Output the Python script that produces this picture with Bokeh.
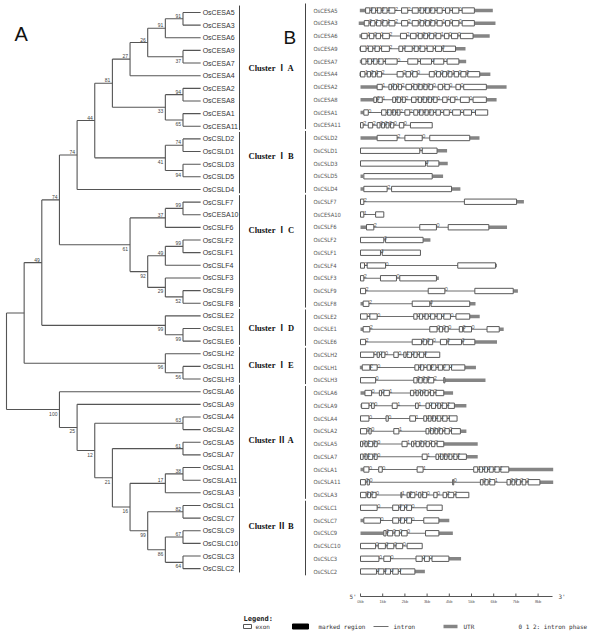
from bokeh.plotting import figure
from bokeh.layouts import row
from bokeh.models import Range1d, ColumnDataSource
from bokeh.core.properties import value
from bokeh.embed import file_html
from bokeh.resources import INLINE

# ---------------- data ----------------
# tree: (node level, bootstrap, children); leaves are gene names
TREE = (0, None, [
    (1, None, [
        (2, 49, [
            (3, 74, [
                (4, 74, [
                    (5, 44, [
                        (6, 81, [
                            (7, 27, [
                                (8, 26, [
                                    (9, 91, [(10, 91, ["OsCESA5", "OsCESA3"]), "OsCESA6"]),
                                    (10, 37, ["OsCESA9", "OsCESA7"]),
                                ]),
                                "OsCESA4",
                            ]),
                            (9, 33, [(10, 94, ["OsCESA2", "OsCESA8"]),
                                     (10, 65, ["OsCESA1", "OsCESA11"])]),
                        ]),
                        (9, 41, [(10, 74, ["OsCSLD2", "OsCSLD1"]),
                                 (10, 94, ["OsCSLD3", "OsCSLD5"])]),
                    ]),
                    "OsCSLD4",
                ]),
                (7, 61, [
                    (9, 37, [(10, 99, ["OsCSLF7", "OsCESA10"]), "OsCSLF6"]),
                    (8, 92, [
                        (9, 49, [(10, 99, ["OsCSLF2", "OsCSLF1"]), "OsCSLF4"]),
                        (9, 29, ["OsCSLF3", (10, 52, ["OsCSLF9", "OsCSLF8"])]),
                    ]),
                ]),
            ]),
            (9, 99, ["OsCSLE2", (10, 99, ["OsCSLE1", "OsCSLE6"])]),
        ]),
        (9, 96, ["OsCSLH2", (10, 56, ["OsCSLH1", "OsCSLH3"])]),
    ]),
    (3, 100, [
        "OsCSLA6",
        (4, 25, [
            "OsCSLA9",
            (5, 12, [
                (10, 63, ["OsCSLA4", "OsCSLA2"]),
                (6, 21, [
                    (10, 61, ["OsCSLA5", "OsCSLA7"]),
                    (7, 16, [
                        (9, 17, [(10, 38, ["OsCSLA1", "OsCSLA11"]), "OsCSLA3"]),
                        (8, 99, [(10, 82, ["OsCSLC1", "OsCSLC7"]),
                                 (9, 86, [(10, 67, ["OsCSLC9", "OsCSLC10"]),
                                          (10, 64, ["OsCSLC3", "OsCSLC2"])])]),
                    ]),
                ]),
            ]),
        ]),
    ]),
])
LEAF_LEVEL = 11

GENES = ["OsCESA5", "OsCESA3", "OsCESA6", "OsCESA9", "OsCESA7", "OsCESA4", "OsCESA2",
         "OsCESA8", "OsCESA1", "OsCESA11", "OsCSLD2", "OsCSLD1", "OsCSLD3", "OsCSLD5",
         "OsCSLD4", "OsCSLF7", "OsCESA10", "OsCSLF6", "OsCSLF2", "OsCSLF1", "OsCSLF4",
         "OsCSLF3", "OsCSLF9", "OsCSLF8", "OsCSLE2", "OsCSLE1", "OsCSLE6", "OsCSLH2",
         "OsCSLH1", "OsCSLH3", "OsCSLA6", "OsCSLA9", "OsCSLA4", "OsCSLA2", "OsCSLA5",
         "OsCSLA7", "OsCSLA1", "OsCSLA11", "OsCSLA3", "OsCSLC1", "OsCSLC7", "OsCSLC9",
         "OsCSLC10", "OsCSLC3", "OsCSLC2"]

# gene structures (kb)
UTR5 = [(-0.03, 0.23), (-0.08, 0.17), (-0.05, 0.05), (-0.05, 0.0), (-0.03, 0.05), (-0.05, 0.0),
        (0.0, 0.75), (0.0, 0.6), (0.0, 0.15), None, (0.0, 0.75), None, None, (0.0, 0.12),
        (0.0, 0.15), None, None, (0.0, 0.27), None, None, None, None, None, (0.0, 0.12),
        None, (0.0, 0.12), None, None, (-0.03, 0.08), None, (0.0, 0.2), (0.0, 0.05), None,
        None, None, None, (0.0, 0.15), None, None, None, (0.0, 0.15), (0.0, 1.05), None,
        None, None]
UTR3 = [(5.13, 5.96), (5.13, 6.08), (5.07, 5.82), (4.28, 4.73), (4.43, 4.76), (5.37, 5.85),
        (5.67, 6.58), (5.67, 6.13), None, None, (4.92, 5.36), (3.45, 3.9), (3.53, 3.93),
        (3.23, 3.72), (4.1, 4.5), (7.03, 7.36), None, (5.78, 6.6), (2.82, 3.15), None,
        (6.08, 6.15), (3.42, 3.53), (6.88, 7.09), (4.92, 5.18), (4.92, 5.37), (6.25, 6.45),
        (5.15, 6.15), None, (4.7, 5.2), (3.8, 5.63), (3.75, 4.17), (4.23, 4.77), None,
        (4.5, 4.77), (3.75, 5.28), (4.77, 5.28), (6.68, 8.68), (8.08, 8.68), None, None,
        (3.53, 4.0), (3.53, 4.16), None, (3.98, 4.53), (2.45, 2.9)]
EXONS = [
    [(0.23, 0.42), (0.5, 0.68), (0.76, 0.93), (1.0, 1.2), (1.28, 1.55), (1.85, 2.13), (2.33, 2.6),
     (2.68, 2.85), (2.93, 3.1), (3.16, 3.35), (3.45, 3.68), (3.83, 4.02), (4.14, 4.43), (4.58, 5.13)],
    [(0.17, 0.38), (0.45, 0.65), (0.72, 0.92), (1.0, 1.2), (1.28, 1.55), (1.85, 2.13), (2.33, 2.6),
     (2.68, 2.85), (2.93, 3.1), (3.16, 3.35), (3.45, 3.68), (3.83, 4.02), (4.14, 4.43), (4.58, 5.13)],
    [(0.05, 0.3), (0.4, 0.6), (0.7, 0.9), (1.0, 1.3), (1.8, 2.07), (2.25, 2.5), (2.6, 2.78),
     (2.85, 3.02), (3.1, 3.3), (3.4, 3.62), (3.78, 3.98), (4.1, 4.38), (4.5, 5.07)],
    [(0.0, 0.25), (0.35, 0.55), (0.65, 0.85), (0.95, 1.3), (1.73, 1.9), (2.0, 2.33), (2.42, 2.6),
     (2.68, 2.9), (3.0, 3.27), (3.38, 3.65), (3.72, 4.28)],
    [(0.05, 0.25), (0.33, 0.5), (0.58, 0.75), (0.82, 1.02), (1.12, 1.65), (2.13, 2.58), (2.7, 3.2),
     (3.3, 3.75), (3.9, 4.43)],
    [(0.0, 0.2), (0.3, 0.45), (0.52, 0.68), (0.75, 0.95), (1.65, 1.92), (2.05, 2.25), (2.35, 2.55),
     (3.1, 3.32), (3.42, 3.6), (3.7, 3.88), (3.95, 4.12), (4.22, 4.42), (4.52, 4.75), (4.83, 5.37)],
    [(0.75, 0.98), (1.28, 1.4), (1.48, 1.62), (1.7, 1.85), (2.05, 2.3), (2.4, 2.55), (2.62, 2.78),
     (2.85, 3.0), (3.08, 3.25), (3.5, 3.7), (3.8, 4.0), (4.3, 4.5), (4.65, 5.67)],
    [(0.6, 0.72), (0.78, 0.98), (1.45, 1.58), (1.65, 1.8), (1.88, 2.02), (2.3, 2.5), (2.6, 2.75),
     (2.82, 2.98), (3.05, 3.2), (3.28, 3.45), (3.7, 3.9), (4.05, 4.25), (4.5, 4.9), (5.07, 5.67)],
    [(0.15, 0.35), (0.95, 1.15), (1.22, 1.38), (1.45, 1.58), (1.65, 1.78), (2.0, 2.22), (2.4, 2.58),
     (2.66, 2.82), (2.9, 3.05), (3.12, 3.28), (3.4, 3.6), (3.75, 4.0), (4.15, 4.5), (4.65, 5.0),
     (5.18, 5.73)],
    [(0.0, 0.12), (0.35, 0.55), (0.75, 0.88), (0.95, 1.08), (1.15, 1.28), (1.35, 1.5), (1.75, 1.95),
     (2.25, 3.23)],
    [(0.75, 1.65), (2.0, 2.78), (3.12, 4.92)],
    [(0.0, 2.67), (2.78, 3.45)],
    [(0.0, 2.93), (3.0, 3.53)],
    [(0.15, 3.23)],
    [(0.15, 1.2), (1.4, 4.1)],
    [(0.0, 0.15), (4.68, 7.03)],
    [(0.0, 0.15), (0.68, 1.05)],
    [(0.27, 0.6), (2.67, 3.42), (3.95, 5.78)],
    [(0.0, 1.05), (1.13, 2.82)],
    [(0.0, 0.9), (0.98, 2.7)],
    [(0.0, 0.18), (0.3, 1.13), (4.38, 6.08)],
    [(0.0, 0.15), (0.9, 1.62), (1.77, 3.42)],
    [(0.0, 0.23), (3.05, 3.8), (5.15, 6.88)],
    [(0.12, 0.38), (2.33, 3.12), (3.18, 4.92)],
    [(0.0, 0.3), (0.42, 0.75), (2.4, 2.55), (2.65, 2.8), (2.9, 3.05), (3.15, 3.35), (3.45, 3.65),
     (3.75, 4.05), (4.3, 4.92)],
    [(0.12, 0.42), (3.12, 3.45), (3.55, 3.7), (3.8, 3.95), (4.45, 4.6), (4.65, 5.0), (5.7, 6.25)],
    [(0.0, 0.23), (2.33, 2.75), (2.82, 2.98), (3.05, 3.25), (3.6, 3.88), (3.95, 4.55), (4.62, 5.15)],
    [(0.0, 0.6), (0.75, 0.85), (0.95, 1.1), (1.5, 1.7), (1.95, 2.05), (2.1, 2.3), (2.4, 2.55),
     (2.65, 2.85), (2.93, 3.57)],
    [(0.08, 0.42), (0.45, 0.75), (2.45, 2.62), (2.7, 2.85), (3.0, 3.15), (3.2, 3.4), (3.5, 3.7),
     (3.75, 4.0), (4.1, 4.7)],
    [(0.0, 0.68), (2.4, 2.55), (2.62, 2.78), (2.85, 3.0), (3.05, 3.3), (3.75, 3.8)],
    [(0.2, 0.5), (0.85, 0.95), (1.05, 1.3), (2.25, 2.4), (2.5, 2.6), (2.7, 2.8), (2.9, 3.05),
     (3.15, 3.3), (3.4, 3.75)],
    [(0.05, 0.38), (0.5, 0.62), (1.43, 1.65), (2.48, 2.6), (2.95, 3.1), (3.2, 3.38), (3.48, 3.6),
     (3.68, 3.88), (3.95, 4.23)],
    [(0.0, 0.38), (1.15, 1.25), (2.22, 2.48), (2.85, 2.98), (3.05, 3.18), (3.25, 3.38), (3.45, 3.62),
     (3.7, 3.9), (4.0, 4.35)],
    [(0.0, 0.28), (0.38, 0.48), (1.5, 1.73), (2.95, 3.08), (3.15, 3.28), (3.35, 3.48), (3.55, 3.7),
     (3.8, 4.0), (4.1, 4.5)],
    [(0.0, 0.1), (0.2, 0.3), (0.35, 0.55), (0.62, 0.75), (1.87, 2.1), (2.3, 2.4), (2.5, 2.65),
     (2.72, 2.85), (2.95, 3.1), (3.2, 3.35), (3.45, 3.75)],
    [(0.0, 0.12), (0.2, 0.3), (0.35, 0.55), (0.62, 0.75), (2.78, 3.0), (3.4, 3.52), (3.6, 3.72),
     (3.78, 3.9), (3.98, 4.12), (4.2, 4.35), (4.42, 4.77)],
    [(0.15, 0.38), (0.82, 0.98), (2.55, 2.82), (5.1, 5.28), (5.35, 5.5), (5.58, 5.72), (5.8, 5.98),
     (6.05, 6.25), (6.32, 6.68)],
    [(0.0, 0.22), (0.3, 0.4), (4.15, 4.2), (5.4, 5.52), (5.6, 5.75), (5.82, 6.05), (6.6, 6.75),
     (6.82, 6.95), (7.02, 7.2), (7.28, 7.45), (7.55, 8.08)],
    [(0.0, 0.25), (0.32, 0.45), (0.52, 0.7), (1.82, 1.86), (2.1, 2.2), (2.25, 2.45), (2.62, 2.72),
     (2.8, 2.98), (3.3, 3.45), (3.72, 3.88), (3.95, 4.2), (4.3, 4.88)],
    [(0.0, 0.75), (1.45, 1.72), (1.8, 1.98), (2.08, 2.3), (3.0, 3.68)],
    [(0.15, 0.9), (1.45, 1.72), (1.8, 1.98), (2.08, 2.3), (2.85, 3.53)],
    [(1.05, 1.15), (1.22, 1.45), (1.55, 1.75), (1.85, 2.1), (2.93, 3.53)],
    [(0.0, 0.68), (0.8, 1.12), (1.2, 1.5), (1.6, 1.9), (2.1, 2.78)],
    [(0.0, 0.83), (1.05, 1.35), (2.5, 2.78), (2.88, 3.1), (3.22, 3.98)],
    [(0.0, 0.72), (0.8, 1.05), (1.12, 1.35), (1.45, 1.7), (1.8, 2.45)],
]
PHASES = ["0101220000100", "0201220000100", "101220000100", "1012000100", "10120000",
          "1012200000100", "101220000100", "0101220000100", "01012200000100", "2200000",
          "20", "0", "0", "", "2", "2", "1", "20", "0", "0", "20", "20", "20", "20",
          "20000000", "200000", "200000", "00001000", "20000100", "00002", "00110022",
          "00110022", "00110122", "00110022", "0100110022", "0100110022", "00110022",
          "0000110022", "00010110022", "0000", "0000", "0000", "0000", "0000", "0000"]

CLUSTER_NAMES = ["Cluster \u2160 A", "Cluster \u2160 B", "Cluster \u2160 C", "Cluster \u2160 D",
                 "Cluster \u2160 E", "Cluster \u2161 A", "Cluster \u2161 B"]
CLUSTER_FIRST = [0, 10, 15, 24, 27, 30, 39]
CLUSTER_LAST = [9, 14, 23, 26, 29, 38, 44]
CLUSTER_LABEL_ROW = [4.5, 11.4, 17.2, 24.9, 27.8, 33.7, 40.4]

SCALE_KB = [0, 1, 2, 3, 4, 5, 6, 7, 8]
SCALE_LABELS = ["0kb", "1kb", "2kb", "3kb", "4kb", "5kb", "6kb", "7kb", "8kb"]
SCALE_END_KB = 8.65

# ---------------- layout helpers (page pixel -> data) ----------------
W_A, W_B, H = 240, 360, 642
LEVEL_PX, LEVEL0_PX = 17.65, 6.0
KB_PX, KB0_PX = 22.2, 360.0
ROWA_PX, ROWA0_PX = 12.64, 12.0
ROWB_PX, ROWB0_PX = 12.75, 10.0


def lvl(px):
    return (px - LEVEL0_PX) / LEVEL_PX


def kb(px):
    return (px - KB0_PX) / KB_PX


def rwa(py):
    return (py - ROWA0_PX) / ROWA_PX


def rwb(py):
    return (py - ROWB0_PX) / ROWB_PX


def mkfig(w, xr, yr):
    p = figure(width=w, height=H, x_range=xr, y_range=yr, output_backend="svg",
               toolbar_location=None, min_border=0, x_axis_location=None,
               y_axis_location=None)
    p.grid.visible = False
    p.outline_line_color = None
    p.background_fill_color = "white"
    return p


LINE = "#555555"
SANS = value("Liberation Sans")
MONO = value("DejaVu Sans Mono")

# ---------------- panel A: tree ----------------
pa = mkfig(W_A, Range1d(lvl(0), lvl(W_A)), Range1d(rwa(H), rwa(0)))

segs = dict(x0=[], y0=[], x1=[], y1=[])
bs_up = dict(x=[], y=[], t=[])
bs_dn = dict(x=[], y=[], t=[])
leaves = []


def walk(node):
    if isinstance(node, str):
        leaves.append(node)
        return LEAF_LEVEL, float(len(leaves) - 1)
    level, boot, kids = node
    ys = []
    for i, k in enumerate(kids):
        kx, ky = walk(k)
        segs["x0"].append(level); segs["y0"].append(ky)
        segs["x1"].append(kx); segs["y1"].append(ky)
        if not isinstance(k, str) and k[1] is not None:
            d = bs_up if i == 0 else bs_dn
            d["x"].append(kx); d["y"].append(ky); d["t"].append(str(k[1]))
        ys.append(ky)
    segs["x0"].append(level); segs["y0"].append(ys[0])
    segs["x1"].append(level); segs["y1"].append(ys[-1])
    return level, (ys[0] + ys[-1]) / 2


walk(TREE)
pa.segment(x0="x0", y0="y0", x1="x1", y1="y1", source=ColumnDataSource(segs),
           line_color=LINE, line_width=1.1)
pa.text(x=[LEAF_LEVEL] * len(leaves), y=list(range(len(leaves))), text=leaves,
        x_offset=2, text_font=SANS, text_font_size="7px", text_color="#333333",
        text_align="left", text_baseline="middle")
pa.text(x="x", y="y", text="t", source=ColumnDataSource(bs_up), x_offset=-2, y_offset=-1,
        text_font=SANS, text_font_size="5px", text_color="#444444",
        text_align="right", text_baseline="bottom")
pa.text(x="x", y="y", text="t", source=ColumnDataSource(bs_dn), x_offset=-2, y_offset=2,
        text_font=SANS, text_font_size="5px", text_color="#444444",
        text_align="right", text_baseline="top")
pa.text(x=[lvl(14)], y=[rwa(33)], text=["A"], text_font=SANS, text_font_size="20px",
        text_color="#111111", text_align="left", text_baseline="alphabetic")
# first column of cluster brackets
for first, last in zip(CLUSTER_FIRST, CLUSTER_LAST):
    pa.line(x=[lvl(239), lvl(239)], y=[first - 0.55, last + 0.3], line_color="#444444",
            line_width=1)

# ---------------- panel B: gene structures ----------------
pb = mkfig(W_B, Range1d(kb(W_A), kb(W_A + W_B)), Range1d(rwb(H), rwb(0)))

for first, last in zip(CLUSTER_FIRST, CLUSTER_LAST):
    pb.line(x=[kb(305), kb(305)], y=[first - 0.55, last + 0.3], line_color="#444444",
            line_width=1)
pb.text(x=[kb(248)] * len(CLUSTER_NAMES), y=CLUSTER_LABEL_ROW, text=CLUSTER_NAMES,
        text_font=value("Liberation Serif, Noto Sans CJK SC"), text_font_style="bold",
        text_font_size="8.5px", text_color="#111111", text_align="left",
        text_baseline="middle")
pb.text(x=[kb(283)], y=[rwb(37)], text=["B"], text_font=SANS, text_font_size="19px",
        text_color="#111111", text_align="left", text_baseline="alphabetic")

# gene names
pb.text(x=[kb(313)] * len(GENES), y=list(range(len(GENES))), text=GENES,
        text_font=value("DejaVu Sans Condensed"), text_font_size="5.8px", text_color="#555555",
        text_align="left", text_baseline="middle")

intr = dict(x0=[], x1=[], y=[])
utr = dict(x0=[], x1=[], y=[])
ex = dict(l=[], r=[], t=[], b=[])
ph = dict(x=[], y=[], t=[])
for i in range(len(GENES)):
    e = EXONS[i]
    intr["x0"].append(e[0][0]); intr["x1"].append(e[-1][1]); intr["y"].append(i)
    for u in (UTR5[i], UTR3[i]):
        if u is not None:
            utr["x0"].append(u[0]); utr["x1"].append(u[1]); utr["y"].append(i)
    for (s, f) in e:
        ex["l"].append(s); ex["r"].append(f); ex["t"].append(i - 0.21); ex["b"].append(i + 0.21)
    for j, c in enumerate(PHASES[i]):
        ph["x"].append(e[j][1]); ph["y"].append(i); ph["t"].append(c)

pb.segment(x0="x0", y0="y", x1="x1", y1="y", source=ColumnDataSource(intr),
           line_color="#6e6e6e", line_width=1)
pb.segment(x0="x0", y0="y", x1="x1", y1="y", source=ColumnDataSource(utr),
           line_color="#858585", line_width=3.5)
pb.quad(left="l", right="r", top="t", bottom="b", source=ColumnDataSource(ex),
        fill_color="white", line_color="#5a5a5a", line_width=1)
pb.text(x="x", y="y", text="t", source=ColumnDataSource(ph), x_offset=0, y_offset=0,
        text_font=SANS, text_font_size="5.5px", text_color="#555555",
        text_align="left", text_baseline="bottom")

# scale bar
ys = rwb(596)
pb.line(x=[0, SCALE_END_KB], y=[ys, ys], line_color="#555555", line_width=1)
pb.segment(x0=SCALE_KB, y0=[rwb(593)] * len(SCALE_KB), x1=SCALE_KB, y1=[ys] * len(SCALE_KB),
           line_color="#555555", line_width=1)
pb.text(x=SCALE_KB, y=[rwb(598)] * len(SCALE_KB), text=SCALE_LABELS, text_font=SANS,
        text_font_size="4px", text_color="#555555", text_align="center", text_baseline="top")
pb.text(x=[kb(349), kb(558)], y=[ys, ys], text=["5'", "3'"], text_font=MONO,
        text_font_size="6px", text_color="#444444", text_align="left", text_baseline="middle")

# legend
pb.text(x=[kb(243)], y=[rwb(618)], text=["Legend:"], text_font=MONO, text_font_style="bold",
        text_font_size="7px", text_color="#222222", text_align="left", text_baseline="middle")
yl = rwb(626)
pb.quad(left=[kb(243)], right=[kb(251)], top=[rwb(624)], bottom=[rwb(628)], fill_color="white",
        line_color="#555555", line_width=1)
pb.quad(left=[kb(292)], right=[kb(308)], top=[rwb(623.5)], bottom=[rwb(628.5)],
        fill_color="black", line_color="black", line_width=1)
pb.line(x=[kb(373), kb(388)], y=[yl, yl], line_color="#6e6e6e", line_width=1)
pb.line(x=[kb(443), kb(457)], y=[yl, yl], line_color="#858585", line_width=3.5)
pb.text(x=[kb(255), kb(318), kb(393), kb(463), kb(518)], y=[yl] * 5,
        text=["exon", "marked region", "intron", "UTR", "0 1 2: intron phase"],
        text_font=MONO, text_font_size="6px", text_color="#333333", text_align="left",
        text_baseline="middle")

layout = row(pa, pb, spacing=0)
open("out.html", "w").write(file_html(layout, INLINE))
